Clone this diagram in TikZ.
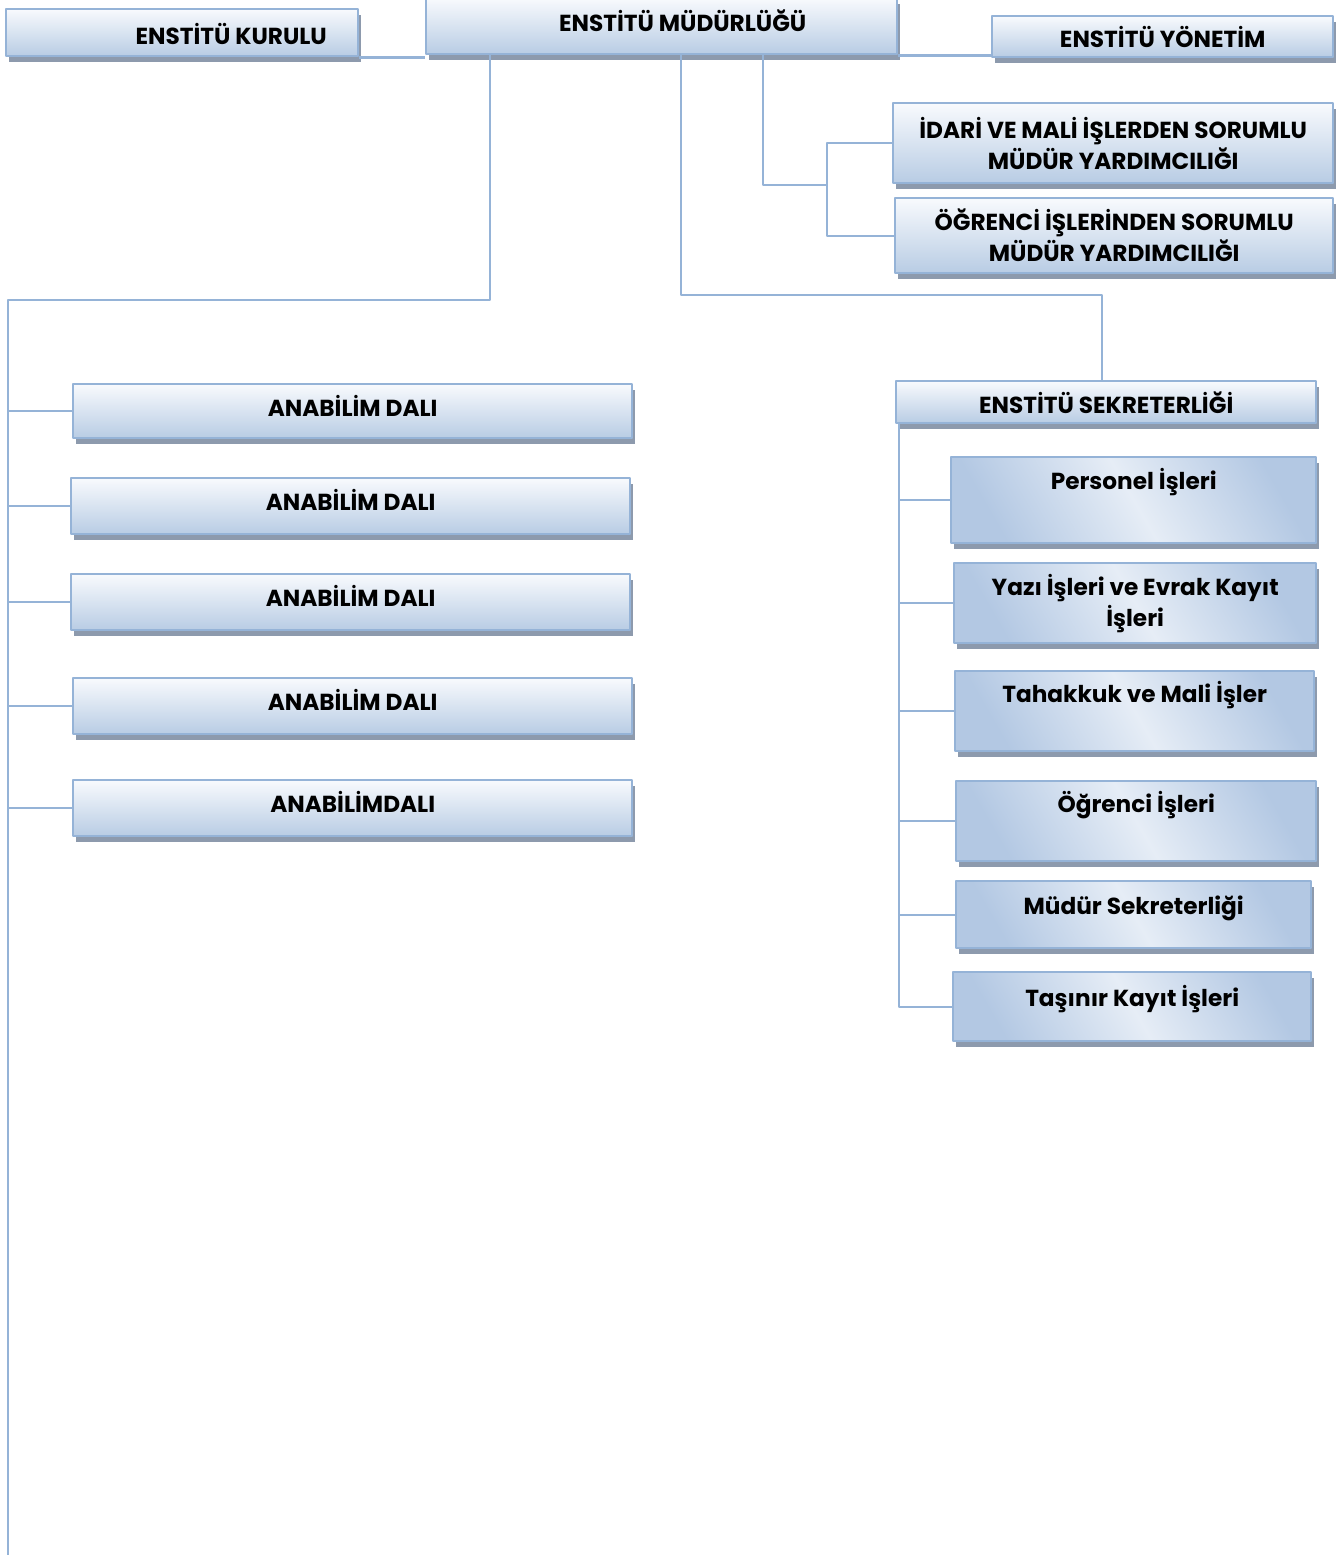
\documentclass[tikz,border=0pt]{standalone}
\usepackage{fontspec}
\setmainfont{Poppins}
\usetikzlibrary{shadows,calc}
\definecolor{boxline}{HTML}{95B3D7}
\definecolor{boxtop}{HTML}{F8FAFD}
\definecolor{boxbot}{HTML}{B8CCE4}
\definecolor{subdark}{HTML}{B3C8E3}
\definecolor{sublight}{HTML}{E6EDF6}
\definecolor{shadowc}{HTML}{8D9AAD}
\begin{document}
\begin{tikzpicture}[x=0.5pt,y=-0.5pt,line join=round]
	\tikzset{box/.style={draw=boxline,line width=1.2pt,top color=boxtop,bottom color=boxbot,
			drop shadow={shadow xshift=1.5pt,shadow yshift=-3pt,fill=shadowc,opacity=1},
			inner sep=0pt,anchor=north west,align=center,font=\fontsize{11.6}{15.5}\selectfont\bfseries},
		subbox/.style={box,top color=subdark,bottom color=subdark,middle color=sublight,shading angle=-60},
		link/.style={draw=boxline,line width=1.1pt}}
	\useasboundingbox (0,0) rectangle (1339,1560);
	\node[box,minimum width=176pt,text height=17.5pt,text depth=6pt] (kur) at (5,8) {\hspace*{49pt}ENSTİTÜ KURULU};
	\node[box,minimum width=235.5pt,text height=16.5pt,text depth=11.5pt] (mud) at (425,-3) {\hspace*{21pt}ENSTİTÜ MÜDÜRLÜĞÜ};
	\node[box,minimum width=170.5pt,text height=15.5pt,text depth=5pt] (yon) at (991,15) {ENSTİTÜ YÖNETİM};
	\node[box,minimum width=220pt,minimum height=40pt] (idari) at (892,102) {İDARİ VE MALİ İŞLERDEN SORUMLU\\MÜDÜR YARDIMCILIĞI};
	\node[box,minimum width=219pt,minimum height=37.5pt] (ogr) at (894,197) {ÖĞRENCİ İŞLERİNDEN SORUMLU\\MÜDÜR YARDIMCILIĞI};
	\node[box,minimum width=210pt,text height=16pt,text depth=5pt] (sek) at (895,380) {ENSTİTÜ SEKRETERLİĞİ};
	\node[box,minimum width=279.5pt,text height=16pt,text depth=11pt] (ana1) at (72,383) {ANABİLİM DALI};
	\node[box,minimum width=279.5pt,text height=16pt,text depth=12pt] (ana2) at (70,477) {ANABİLİM DALI};
	\node[box,minimum width=279.5pt,text height=16pt,text depth=12pt] (ana3) at (70,573) {ANABİLİM DALI};
	\node[box,minimum width=279.5pt,text height=16pt,text depth=12pt] (ana4) at (72,677) {ANABİLİM DALI};
	\node[box,minimum width=279.5pt,text height=16pt,text depth=12pt] (ana5) at (72,779) {ANABİLİMDALI};
	\node[subbox,minimum width=182.5pt,text height=16pt,text depth=27pt] (pers) at (950,456) {Personel İşleri};
	\node[subbox,minimum width=181pt,minimum height=40pt] (yazi) at (953,562) {Yazı İşleri ve Evrak Kayıt\\İşleri};
	\node[subbox,minimum width=179.5pt,text height=15.5pt,text depth=24.5pt] (tah) at (954,670) {Tahakkuk ve Mali İşler};
	\node[subbox,minimum width=180pt,text height=15.5pt,text depth=24.5pt] (ogris) at (955,780) {Öğrenci İşleri};
	\node[subbox,minimum width=177.5pt,text height=16.5pt,text depth=17pt] (mudsek) at (955,880) {Müdür Sekreterliği};
	\node[subbox,minimum width=179pt,text height=17pt,text depth=17.5pt] (tas) at (952,971) {Taşınır Kayıt İşleri};
	\coordinate (mydrop) at (763,185);
	\coordinate (myfork) at (827,185);
	\coordinate (mybend) at (490,300);
	\coordinate (myleft) at (8,300);
	\coordinate (mybottom) at (8,1555);
	\coordinate (mymid) at (681,295);
	\coordinate (myturn) at (1102,295);
	\coordinate (mytrunk) at (899,1006);
	\draw[link] (kur.south east) -- (kur.south east -| mud.west);
	\draw[link] (mud.south east) -- (mud.south east -| yon.west);
	\draw[link] (mud.south -| mydrop) -- (mydrop) -- (myfork);
	\draw[link] (idari.west) -| (myfork) |- (ogr.west);
	\draw[link] (mud.south -| mybend) -- (mybend) -- (myleft) -- (mybottom);
	\foreach \n in {ana1,ana2,ana3,ana4,ana5}
	\draw[link] (\n.west) -- (\n.west -| myleft);
	\draw[link] (mud.south -| mymid) |- (myturn) -- (sek.north -| myturn);
	\draw[link] (sek.south -| mytrunk) |- (tas.west);
	\foreach \n in {pers,yazi,tah,ogris,mudsek}
	\draw[link] (\n.west) -- (\n.west -| mytrunk);
\end{tikzpicture}
\end{document}
